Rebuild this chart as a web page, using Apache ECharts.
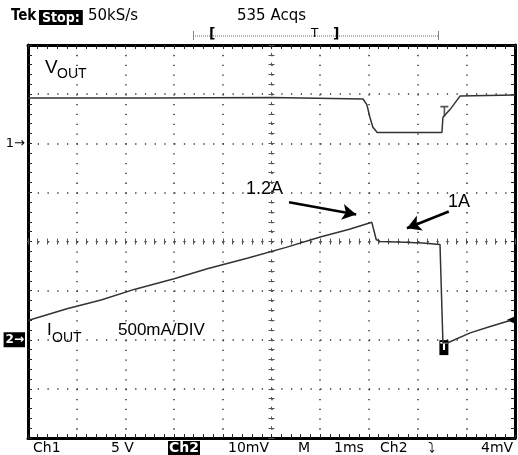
<!DOCTYPE html>
<html><head><meta charset="utf-8">
<script src="https://cdn.jsdelivr.net/npm/echarts@6/dist/echarts.min.js"></script>
<style>html,body{margin:0;padding:0;background:#fff}#c{width:518px;height:455px}</style>
</head><body><div id="c"></div>
<script>
// time in ms (1 ms/div), trace position in divisions (0 = centre)
const voutTime = [-5, -2.5, 0, 1.88, 1.96, 2.02, 2.08, 2.17, 3.50, 3.52, 3.67, 3.87, 5.0];
const voutDiv  = [2.92, 2.92, 2.93, 2.90, 2.78, 2.53, 2.33, 2.22, 2.22, 2.53, 2.69, 2.96, 2.98];
const ioutTime = [-5, -4.2, -3.5, -2.8, -2, -1.3, -0.5, 0.3, 1, 1.6, 2.06, 2.10, 2.15, 2.23, 2.6, 2.84, 3.1, 3.46, 3.50, 3.52, 3.62, 4.08, 4.49, 4.90];
const ioutDiv  = [-1.61, -1.37, -1.19, -0.97, -0.76, -0.55, -0.34, -0.12, 0.09, 0.25, 0.39, 0.37, 0.04, 0.0, -0.01, -0.02, -0.03, -0.06, -0.08, -2.06, -2.06, -1.86, -1.73, -1.61];
const chLabels = {"2": "1→", "-2": "2→"};
const bottomTexts = ["Ch1", "5 V", "Ch2", "10mV", "M", "1ms", "Ch2", "⤵", "4mV"];

const zip = (a, b) => a.map((v, i) => [v, b[i]]);
const chart = echarts.init(document.getElementById('c'), null, {renderer: 'canvas'});

const dotX = [1.3, 8.53];  // vertical grid lines (along y)
const dotY = [1.3, 8.44];  // horizontal grid lines (along x)
const frame = (pos, split, dash) => ({
  type: 'value', position: pos, min: pos === 'left' || pos === 'right' ? -4 : -5,
  max: pos === 'left' || pos === 'right' ? 4 : 5, interval: 1,
  axisLine: {show: true, onZero: false, lineStyle: {color: '#000', width: 3}},
  axisTick: {show: true, inside: true, length: 4, lineStyle: {color: '#222', width: 1}},
  minorTick: {show: true, splitNumber: 5, length: 4, lineStyle: {color: '#222', width: 1}},
  axisLabel: {show: false},
  splitLine: {show: split, lineStyle: {color: '#333', width: 1.5, type: dash}},
  minorSplitLine: {show: false}
});
const centre = (pos, inside, dash) => ({
  type: 'value', position: pos, min: pos === 'left' ? -4 : -5, max: pos === 'left' ? 4 : 5, interval: 1,
  axisLine: {show: true, onZero: true, onZeroAxisIndex: 0, lineStyle: {color: '#555', width: 1, type: dash}},
  axisTick: {show: true, inside: inside, length: 3, lineStyle: {color: '#555', width: 1}},
  minorTick: {show: true, splitNumber: 5, length: 3, lineStyle: {color: '#555', width: 1}},
  axisLabel: {show: false}, splitLine: {show: false}
});

const yLeft = frame('left', true, dotY);
yLeft.axisLabel = {
  show: true, margin: 3, fontFamily: 'DejaVu Sans', fontSize: 13, color: '#000',
  formatter: v => chLabels[String(v)] ? (v === -2 ? '{b|' + chLabels['-2'] + '}' : chLabels['2']) : '',
  rich: {b: {backgroundColor: '#000', color: '#fff', fontWeight: 'bold', fontSize: 12, padding: [2, 1, 1, 2]}}
};

const txt = (x, y, s, o) => ({type: 'text', left: x, top: y, style: Object.assign({text: s, fill: '#000', fontFamily: 'Liberation Sans', fontSize: 18}, o || {})});

const bx = [33, 111, 168, 228, 298, 334, 380, 428, 481];
const bottomGraphics = bottomTexts.map((s, i) => ({
  type: 'text', left: bx[i], top: 441,
  style: i === 2 ? {text: s, fill: '#fff', fontFamily: 'DejaVu Sans', fontSize: 14, fontWeight: 'bold', backgroundColor: '#000', padding: [0, 1, 0, 1]}
                 : {text: s, fill: '#000', fontFamily: 'DejaVu Sans', fontSize: 14}
}));

chart.setOption({
  animation: false,
  backgroundColor: '#fff',
  grid: {left: 28, top: 45, width: 487, height: 393, containLabel: false},
  xAxis: [frame('bottom', true, dotX), frame('top', false, dotX), centre('bottom', true, [1.3, 8.44]), centre('bottom', false, [1.3, 8.44])],
  yAxis: [yLeft, frame('right', false, dotY), centre('left', true, [1.3, 8.53]), centre('left', false, [1.3, 8.53])],
  series: [
    {type: 'line', name: 'VOUT', data: zip(voutTime, voutDiv), showSymbol: false, symbol: 'none',
     lineStyle: {color: '#333', width: 1.5}, z: 5,
     markPoint: {symbol: 'path://M0,0 H8 V1.6 H4.8 V10 H3.2 V1.6 H0 Z', symbolSize: [8, 11], itemStyle: {color: '#555'},
       label: {show: false}, data: [{coord: [3.55, 2.65]}]}},
    {type: 'line', name: 'IOUT', data: zip(ioutTime, ioutDiv), showSymbol: false, symbol: 'none',
     lineStyle: {color: '#333', width: 1.5}, z: 5,
     markPoint: {data: [
       {coord: [3.54, -2.16], symbol: 'rect', symbolSize: [9, 15], itemStyle: {color: '#000'},
        label: {show: true, formatter: 'T', color: '#fff', fontSize: 11, fontWeight: 'bold', fontFamily: 'DejaVu Sans'}},
       {coord: [4.92, -1.60], symbol: 'triangle', symbolRotate: 90, symbolSize: [8, 9], itemStyle: {color: '#000'}, label: {show: false}}
     ]},
     markLine: {silent: true, symbol: ['none', 'arrow'], symbolSize: [12, 14], label: {show: false},
       lineStyle: {color: '#000', width: 2.5, type: 'solid'},
       data: [
         [{coord: [0.36, 0.80]}, {coord: [1.74, 0.55]}],
         [{coord: [3.64, 0.61]}, {coord: [2.78, 0.27]}]
       ]}}
  ],
  graphic: [
    txt(45, 58, 'V', {fontSize: 19}), txt(57, 67, 'OUT', {fontSize: 14}),
    txt(47, 322, 'I', {fontSize: 17}), txt(52, 331, 'OUT', {fontSize: 14}),
    txt(118, 322, '500mA/DIV', {fontSize: 17}),
    txt(246, 180, '1.2A', {fontSize: 18}),
    txt(448, 193, '1A', {fontSize: 18}),
    {type: 'text', left: 11, top: 9, style: {text: 'Tek', fill: '#000', fontFamily: 'DejaVu Sans Condensed', fontWeight: 'bold', fontSize: 15}},
    {type: 'text', left: 39, top: 10, style: {text: 'Stop:', fill: '#fff', fontFamily: 'DejaVu Sans Condensed', fontWeight: 'bold', fontSize: 14, backgroundColor: '#000', padding: [1, 3, 0, 3]}},
    {type: 'text', left: 88, top: 9, style: {text: '50kS/s', fill: '#000', fontFamily: 'DejaVu Sans', fontSize: 15}},
    {type: 'text', left: 237, top: 9, style: {text: '535 Acqs', fill: '#000', fontFamily: 'DejaVu Sans', fontSize: 15}},
    {type: 'line', shape: {x1: 193, y1: 36, x2: 438, y2: 36}, style: {stroke: '#666', lineWidth: 1, lineDash: [1, 1]}},
    {type: 'line', shape: {x1: 193.5, y1: 31, x2: 193.5, y2: 40}, style: {stroke: '#888', lineWidth: 1}},
    {type: 'line', shape: {x1: 438.5, y1: 31, x2: 438.5, y2: 40}, style: {stroke: '#888', lineWidth: 1}},
    {type: 'text', left: 209, top: 27, style: {text: '[', fill: '#000', fontFamily: 'DejaVu Sans', fontWeight: 'bold', fontSize: 14}},
    {type: 'text', left: 333, top: 27, style: {text: ']', fill: '#000', fontFamily: 'DejaVu Sans', fontWeight: 'bold', fontSize: 14}},
    {type: 'text', left: 311, top: 28, style: {text: 'T', fill: '#000', fontFamily: 'DejaVu Sans', fontSize: 12}}
  ].concat(bottomGraphics)
});
</script></body></html>
